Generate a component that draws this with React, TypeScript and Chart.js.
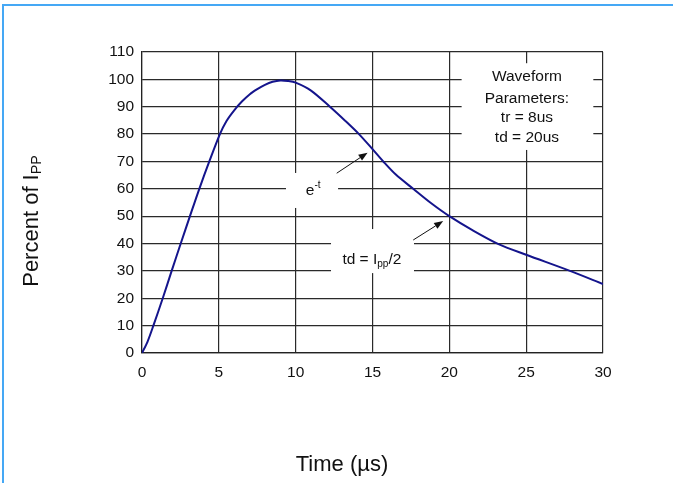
import { useEffect, useRef } from 'react';
import { Chart, registerables } from 'chart.js';

Chart.register(...registerables);

// curve (time in µs, percent of Ipp)
const timeUs = [0, 0.35, 0.74, 1.35, 1.93, 2.52, 3.12, 3.73, 4.38, 5.07, 5.5, 6, 6.5, 7, 7.5, 8, 8.5, 9, 9.5, 10, 11, 12.23, 13.2, 14.12, 15, 15.7, 16.5, 17.65, 18.8, 20, 21.5, 23.2, 25, 27.85, 30];
const percentIpp = [0, 4, 10, 20, 30, 40, 50, 60, 70, 80, 84.8, 88.7, 91.9, 94.5, 96.4, 98, 99.1, 99.6, 99.4, 98.8, 95.9, 90, 85, 80, 74.5, 70, 65.3, 60, 54.8, 50, 44.9, 39.8, 35.9, 30, 25.2];

const paramLines = ['Waveform', 'Parameters:', 'tr = 8us', 'td = 20us'];

const FONT = '"Liberation Sans", Arial, sans-serif';
const INK = '#111';

type Part = { t: string; scale?: number; shift?: number };

// draws a run of text pieces (sub/superscripts) centred on cx, cy
function drawRich(ctx: CanvasRenderingContext2D, parts: Part[], cx: number, cy: number, size: number) {
  ctx.save();
  ctx.textBaseline = 'middle';
  ctx.textAlign = 'left';
  const widths = parts.map(p => {
    ctx.font = `${size * (p.scale ?? 1)}px ${FONT}`;
    return ctx.measureText(p.t).width;
  });
  let x = cx - widths.reduce((a, b) => a + b, 0) / 2;
  parts.forEach((p, i) => {
    ctx.font = `${size * (p.scale ?? 1)}px ${FONT}`;
    ctx.fillText(p.t, x, cy + (p.shift ?? 0) * size);
    x += widths[i];
  });
  ctx.restore();
}

function arrow(ctx: CanvasRenderingContext2D, x0: number, y0: number, x1: number, y1: number) {
  const a = Math.atan2(y1 - y0, x1 - x0);
  const len = 9;
  const half = 3.5;
  ctx.save();
  ctx.strokeStyle = INK;
  ctx.fillStyle = INK;
  ctx.lineWidth = 1;
  ctx.beginPath();
  ctx.moveTo(x0, y0);
  ctx.lineTo(x1 - Math.cos(a) * len, y1 - Math.sin(a) * len);
  ctx.stroke();
  ctx.beginPath();
  ctx.moveTo(x1, y1);
  ctx.lineTo(x1 - Math.cos(a) * len - Math.sin(a) * half, y1 - Math.sin(a) * len + Math.cos(a) * half);
  ctx.lineTo(x1 - Math.cos(a) * len + Math.sin(a) * half, y1 - Math.sin(a) * len - Math.cos(a) * half);
  ctx.closePath();
  ctx.fill();
  ctx.restore();
}

const overlay = {
  id: 'overlay',
  beforeDatasetsDraw(chart: any) {
    const { ctx } = chart;
    const sx = chart.scales.x;
    const sy = chart.scales.y;
    const px = (v: number) => sx.getPixelForValue(v);
    const py = (v: number) => sy.getPixelForValue(v);

    // white label boxes that cut the grid
    ctx.save();
    ctx.fillStyle = '#fff';
    const box = (x0: number, x1: number, y0: number, y1: number) =>
      ctx.fillRect(px(x0), py(y1), px(x1) - px(x0), py(y0) - py(y1));
    box(20.8, 29.37, 74.2, 105.9);
    box(9.37, 12.76, 53, 65.8);
    box(12.3, 17.7, 29.2, 45.3);
    ctx.restore();

    ctx.fillStyle = INK;
    const rows = [101, 93.1, 85.9, 78.6];
    paramLines.forEach((line, i) => drawRich(ctx, [{ t: line }], px(25.05), py(rows[i]), 15.5));

    drawRich(ctx, [{ t: 'e' }, { t: '-t', scale: 0.65, shift: -0.4 }], px(11.14), py(59.2), 15.5);
    drawRich(ctx, [{ t: 'td = I' }, { t: 'pp', scale: 0.65, shift: 0.28 }, { t: '/2' }], px(14.96), py(34), 15.5);

    arrow(ctx, px(12.67), py(65.7), px(14.68), py(73.2));
    arrow(ctx, px(17.65), py(41.3), px(19.6), py(48.2));
  },
  afterDraw(chart: any) {
    const { ctx } = chart;
    ctx.fillStyle = INK;
    drawRich(ctx, [{ t: 'Time (µs)' }], 342, 465, 22);
    ctx.save();
    ctx.translate(32, 221);
    ctx.rotate(-Math.PI / 2);
    drawRich(ctx, [{ t: 'Percent of I' }, { t: 'PP', scale: 0.65, shift: 0.25 }], 0, 0, 22);
    ctx.restore();
  },
};

export default function App() {
  const chartRef = useRef<HTMLCanvasElement>(null);
  const chartInstance = useRef<Chart | null>(null);

  useEffect(() => {
    if (!chartRef.current) return;
    if (chartInstance.current) {
      chartInstance.current.destroy();
    }
    const ctx = chartRef.current.getContext('2d');
    if (!ctx) return;

    const gridStyle = {
      color: '#2a2a2a',
      lineWidth: 1.2,
      drawTicks: false,
    };

    chartInstance.current = new Chart(ctx, {
      type: 'line',
      data: {
        datasets: [
          {
            data: timeUs.map((t, i) => ({ x: t, y: percentIpp[i] })),
            borderColor: '#14148c',
            borderWidth: 2,
            pointRadius: 0,
            tension: 0.3,
            fill: false,
          },
        ],
      },
      options: {
        animation: false,
        responsive: true,
        maintainAspectRatio: false,
        layout: { padding: { top: 52, right: 70, left: 0, bottom: 0 } },
        plugins: {
          legend: { display: false },
          tooltip: { enabled: false },
        },
        scales: {
          x: {
            type: 'linear',
            min: 0,
            max: 30,
            grid: gridStyle,
            border: { color: '#222', width: 1.2 },
            ticks: {
              stepSize: 5,
              color: INK,
              padding: 10,
              maxRotation: 0,
              font: { family: FONT, size: 15.5 },
            },
            afterFit: (scale: any) => {
              scale.height = 130;
            },
          },
          y: {
            min: 0,
            max: 110,
            grid: gridStyle,
            border: { color: '#222', width: 1.2 },
            ticks: {
              stepSize: 10,
              color: INK,
              padding: 8,
              font: { family: FONT, size: 15.5 },
            },
            afterFit: (scale: any) => {
              scale.width = 142;
            },
          },
        },
      },
      plugins: [overlay],
    });

    return () => {
      if (chartInstance.current) {
        chartInstance.current.destroy();
        chartInstance.current = null;
      }
    };
  }, []);

  return (
    <div style={{ position: 'fixed', left: 0, top: 0, width: 673, height: 483, background: '#fff' }}>
      <canvas ref={chartRef} />
      <div
        style={{
          position: 'absolute',
          left: 2,
          top: 4,
          right: 0,
          bottom: 0,
          borderTop: '2px solid #45a8f5',
          borderLeft: '2px solid #45a8f5',
          pointerEvents: 'none',
        }}
      />
    </div>
  );
}
